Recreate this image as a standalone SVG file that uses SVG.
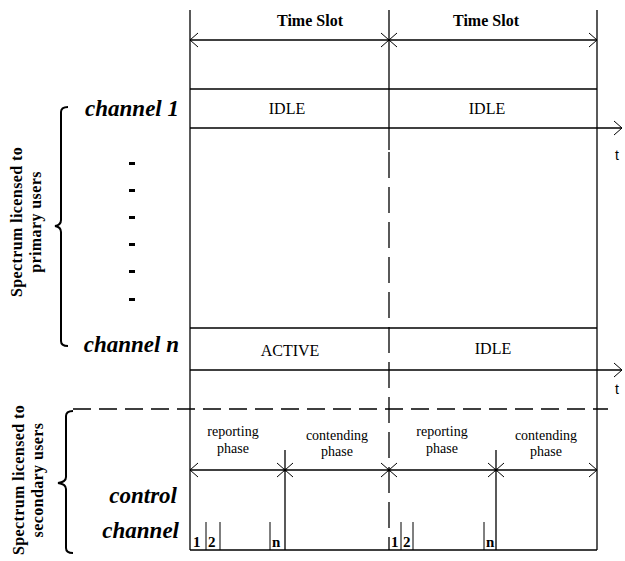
<svg xmlns="http://www.w3.org/2000/svg" width="625" height="561" viewBox="0 0 625 561">
<style>
text{font-family:'Liberation Serif','DejaVu Serif','Times New Roman',serif}
.ln{stroke:#000;stroke-width:1.3;fill:none}
.thin{stroke:#000;stroke-width:1;fill:none}
.br{stroke:#000;stroke-width:2;fill:none}
.ts{font-weight:bold;font-size:16px;text-anchor:middle}
.st{font-size:16px;text-anchor:middle}
.ch{font-weight:bold;font-style:italic;font-size:23px;text-anchor:end}
.ph{font-size:14px;text-anchor:middle}
.num{font-weight:bold;font-size:15px}
.rot{font-weight:bold;font-size:16px;text-anchor:middle;letter-spacing:0.4px}
text.t{font-family:'Liberation Sans',sans-serif;font-size:14px}
</style>
<defs>
<marker id="chev" viewBox="0 0 10 16" refX="9" refY="8" markerWidth="10" markerHeight="16" markerUnits="userSpaceOnUse" orient="auto-start-reverse">
<path d="M1,1 L9,8 L1,15" fill="none" stroke="#000" stroke-width="1"/>
</marker>
</defs>
<g id="grid">
<line class="ln" x1="190" y1="10" x2="190" y2="550"/>
<line class="ln" x1="597" y1="10" x2="597" y2="550"/>
<line class="ln" x1="389" y1="10" x2="389" y2="150"/>
<line class="ln" x1="389" y1="152" x2="389" y2="550" stroke-dasharray="26,9"/>
<line class="ln" x1="190" y1="89" x2="597" y2="89"/>
<line class="ln" x1="190" y1="328" x2="597" y2="328"/>
<line class="ln" x1="190" y1="550" x2="597" y2="550"/>
<line class="ln" x1="73" y1="409" x2="608" y2="409" stroke-dasharray="18,8"/>
<line class="ln" x1="285" y1="450" x2="285" y2="550"/>
<line class="ln" x1="496" y1="450" x2="496" y2="550"/>
<line class="thin" x1="206" y1="522" x2="206" y2="550"/>
<line class="thin" x1="220" y1="522" x2="220" y2="550"/>
<line class="thin" x1="270" y1="522" x2="270" y2="550"/>
<line class="thin" x1="401" y1="522" x2="401" y2="550"/>
<line class="thin" x1="413" y1="522" x2="413" y2="550"/>
<line class="thin" x1="484" y1="522" x2="484" y2="550"/>
</g>
<g id="connectors">
<line class="ln" x1="190" y1="40" x2="389" y2="40" marker-start="url(#chev)" marker-end="url(#chev)"/>
<line class="ln" x1="389" y1="40" x2="597" y2="40" marker-start="url(#chev)" marker-end="url(#chev)"/>
<line class="ln" x1="190" y1="128" x2="622" y2="128" marker-end="url(#chev)"/>
<line class="ln" x1="190" y1="370" x2="622" y2="370" marker-end="url(#chev)"/>
<line class="ln" x1="190" y1="470" x2="285" y2="470" marker-start="url(#chev)" marker-end="url(#chev)"/>
<line class="ln" x1="285" y1="470" x2="389" y2="470" marker-start="url(#chev)" marker-end="url(#chev)"/>
<line class="ln" x1="389" y1="470" x2="496" y2="470" marker-start="url(#chev)" marker-end="url(#chev)"/>
<line class="ln" x1="496" y1="470" x2="597" y2="470" marker-start="url(#chev)" marker-end="url(#chev)"/>
<circle cx="285" cy="470" r="1.5"/>
<circle cx="389" cy="470" r="1.5"/>
<circle cx="496" cy="470" r="1.5"/>
</g>
<g id="labels">
<text class="ts" x="310" y="26">Time Slot</text>
<text class="ts" x="486" y="26">Time Slot</text>
<text class="st" x="287" y="114">IDLE</text>
<text class="st" x="487" y="114">IDLE</text>
<text class="st" x="290" y="356">ACTIVE</text>
<text class="st" x="493" y="354">IDLE</text>
<text class="t" x="615" y="160">t</text>
<text class="t" x="615" y="394">t</text>
<text class="ph" x="233" y="436">reporting</text>
<text class="ph" x="233" y="453">phase</text>
<text class="ph" x="337" y="440">contending</text>
<text class="ph" x="337" y="456">phase</text>
<text class="ph" x="442" y="436">reporting</text>
<text class="ph" x="442" y="453">phase</text>
<text class="ph" x="546" y="440">contending</text>
<text class="ph" x="546" y="456">phase</text>
<text class="num" x="193" y="547">1</text>
<text class="num" x="208" y="547">2</text>
<text class="num" x="272" y="547">n</text>
<text class="num" x="391" y="547">1</text>
<text class="num" x="403" y="547">2</text>
<text class="num" x="486" y="547">n</text>
</g>
<g id="left">
<text class="ch" x="179" y="116">channel 1</text>
<text class="ch" x="179" y="352">channel n</text>
<text class="ch" x="177" y="503">control</text>
<text class="ch" x="179" y="538">channel</text>
<g fill="#000">
<rect x="129" y="162" width="6" height="3"/>
<rect x="129" y="189" width="6" height="3"/>
<rect x="129" y="216" width="6" height="3"/>
<rect x="129" y="243" width="6" height="3"/>
<rect x="129" y="270" width="6" height="3"/>
<rect x="129" y="298" width="6" height="3"/>
</g>
<path class="br" d="M68,107 Q61,107 61,112 L61,220 Q61,225 55,226 Q61,227 61,232 L61,341 Q61,346 68,346"/>
<path class="br" d="M73,411 Q66,411 66,416 L66,477 Q66,482 58,483 Q66,484 66,489 L66,548 Q66,553 73,553"/>
<text class="rot" transform="translate(22,222) rotate(-90)">Spectrum licensed to</text>
<text class="rot" transform="translate(41,222) rotate(-90)">primary users</text>
<text class="rot" transform="translate(24,480) rotate(-90)">Spectrum licensed to</text>
<text class="rot" transform="translate(43,480) rotate(-90)">secondary users</text>
</g>
</svg>
